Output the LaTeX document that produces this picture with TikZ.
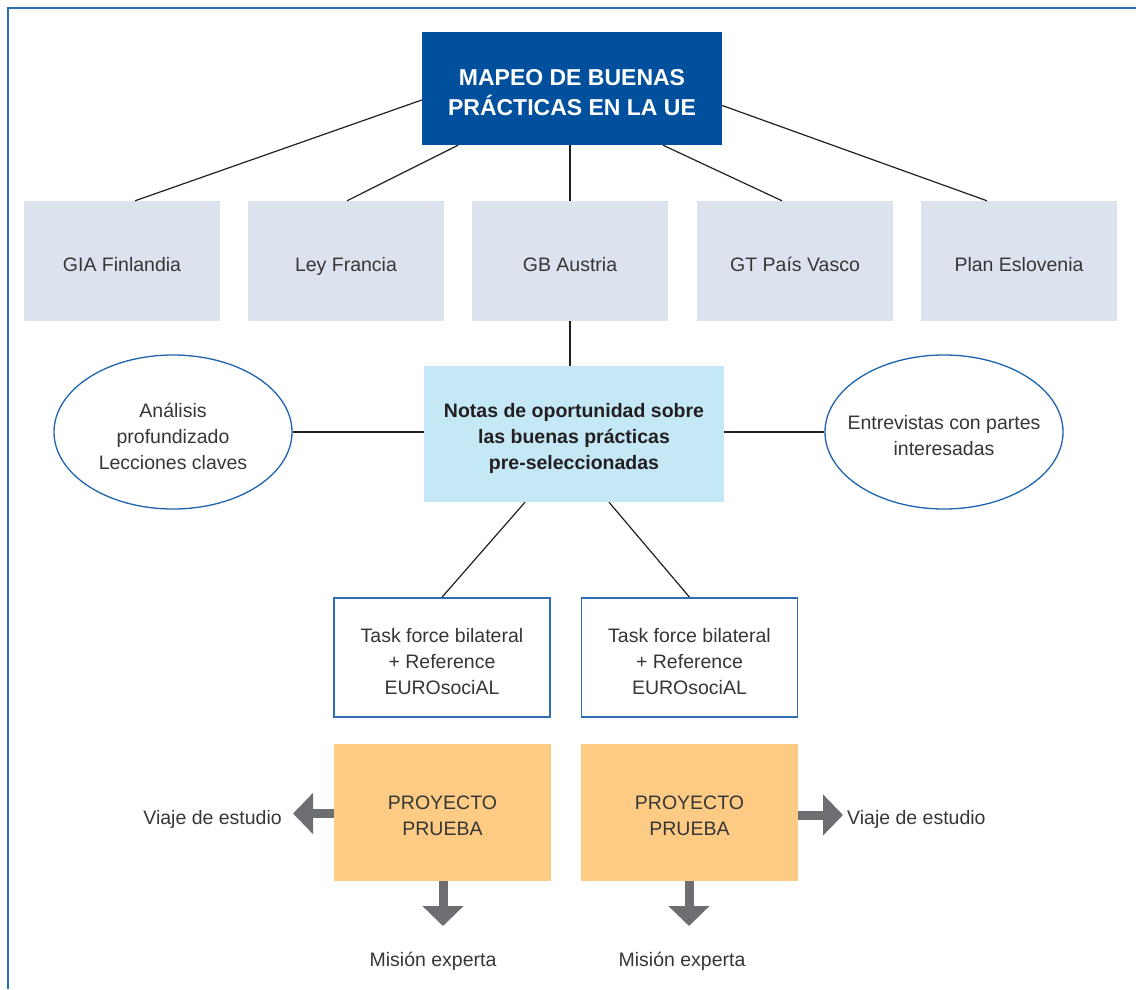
\documentclass[tikz,border=0pt]{standalone}
\usepackage{fontspec}
\setmainfont{Liberation Sans}
\usetikzlibrary{shapes.geometric,arrows.meta}
\definecolor{frameblue}{HTML}{2B6CB8}
\definecolor{titleblue}{HTML}{00509E}
\definecolor{rowgray}{HTML}{DCE2EE}
\definecolor{notasblue}{HTML}{C5E8F7}
\definecolor{ellblue}{HTML}{1F62AE}
\definecolor{taskblue}{HTML}{2E6EB5}
\definecolor{orangebox}{HTML}{FDCB83}
\definecolor{arrowgray}{HTML}{6D6E71}
\definecolor{txt}{HTML}{363636}
\definecolor{linecol}{HTML}{231F20}
\tikzset{
  regtext/.style={text=txt, font=\fontsize{19.5}{26}\selectfont, align=center, inner sep=0pt},
  boldtext/.style={text=linecol, font=\bfseries\fontsize{19.5}{26}\selectfont, align=center, inner sep=0pt},
  titletext/.style={text=white, font=\bfseries\fontsize{23}{30}\selectfont, align=center, inner sep=0pt},
  reglabel/.style={label={[regtext,yshift=-4pt]center:#1}},
  titlebox/.style={fill=titleblue, minimum width=300pt, minimum height=113pt, inner sep=0pt,
     label={[titletext,yshift=-4pt]center:#1}},
  rowbox/.style={fill=rowgray, minimum width=196pt, minimum height=120pt, inner sep=0pt,
     label={[regtext,text height=14pt,text depth=4pt,yshift=-5pt]center:#1}},
  notasbox/.style={fill=notasblue, minimum width=300pt, minimum height=136pt, inner sep=0pt,
     label={[boldtext,yshift=-4pt]center:#1}},
  ellnode/.style={ellipse, draw=ellblue, line width=1.3pt, minimum width=238pt, minimum height=154pt, inner sep=0pt, reglabel={#1}},
  taskbox/.style={draw=taskblue, line width=1.6pt, fill=white, minimum width=216pt, minimum height=119pt, inner sep=0pt, reglabel={#1}},
  orbox/.style={fill=orangebox, minimum width=217pt, minimum height=137pt, inner sep=0pt, reglabel={#1}},
  conn/.style={draw=linecol, line width=1.2pt},
  bigarrow/.style={draw=arrowgray, line width=9pt, -{Triangle[width=40pt,length=20pt]}},
}
\begin{document}
\begin{tikzpicture}[x=1pt,y=-1pt]
\useasboundingbox (0,0) rectangle (1136,989);
% frame
\draw[frameblue, line width=2pt] (8,989) -- (8,8) -- (1136,8);

% nodes
\node[titlebox={MAPEO DE BUENAS\\PRÁCTICAS EN LA UE}] (top) at (572,88.5) {};
\node[rowbox={GIA Finlandia}] (b1) at (122,261) {};
\node[rowbox={Ley Francia}] (b2) at (346,261) {};
\node[rowbox={GB Austria}] (b3) at (570,261) {};
\node[rowbox={GT País Vasco}] (b4) at (795,261) {};
\node[rowbox={Plan Eslovenia}] (b5) at (1019,261) {};

\node[notasbox={Notas de oportunidad sobre\\las buenas prácticas\\pre-seleccionadas}] (notas) at (574,434) {};
\node[ellnode={Análisis\\profundizado\\Lecciones claves}] (ellL) at (173,432) {};
\node[ellnode={Entrevistas con partes\\interesadas}] (ellR) at (944,432) {};

\node[taskbox={Task force bilateral\\+ Reference\\EUROsociAL}] (tf1) at (442,657.5) {};
\node[taskbox={Task force bilateral\\+ Reference\\EUROsociAL}] (tf2) at (689.5,657.5) {};

\node[orbox={PROYECTO\\PRUEBA}] (pp1) at (442.5,812) {};
\node[orbox={PROYECTO\\PRUEBA}] (pp2) at (689.5,812) {};

\node[regtext, anchor=east] (vl) at (282,819) {Viaje de estudio};
\node[regtext, anchor=west] (vr) at (847,819) {Viaje de estudio};
\node[regtext] (m1) at (433,961) {Misión experta};
\node[regtext] (m2) at (682,961) {Misión experta};

% connectors
\draw[conn] ([yshift=-11.5pt]top.west) -- ([xshift=13pt]b1.north);
\draw[conn] ([xshift=-114pt]top.south) -- ([xshift=1pt]b2.north);
\draw[conn] (b3.north |- top.south) -- (b3.north);
\draw[conn] ([xshift=91pt]top.south) -- ([xshift=-13pt]b4.north);
\draw[conn] ([yshift=-17pt]top.east) -- ([xshift=-32pt]b5.north);
\draw[conn] (b3.south) -- (b3.south |- notas.north);
\draw[conn] (notas.west |- ellL.east) -- (ellL.east);
\draw[conn] (notas.east |- ellR.west) -- (ellR.west);
\draw[conn] ([xshift=-49pt]notas.south) -- (tf1.north);
\draw[conn] ([xshift=35pt]notas.south) -- (tf2.north);

% arrows
\coordinate (tipL) at (293,813.5);
\coordinate (tipR) at (843,815);
\coordinate (tipD1) at (443,926);
\coordinate (tipD2) at (689,926);
\draw[bigarrow] (pp1.west |- tipL) -- (tipL);
\draw[bigarrow] (pp2.east |- tipR) -- (tipR);
\draw[bigarrow] (tipD1 |- pp1.south) -- (tipD1);
\draw[bigarrow] (tipD2 |- pp2.south) -- (tipD2);
\end{tikzpicture}
\end{document}
